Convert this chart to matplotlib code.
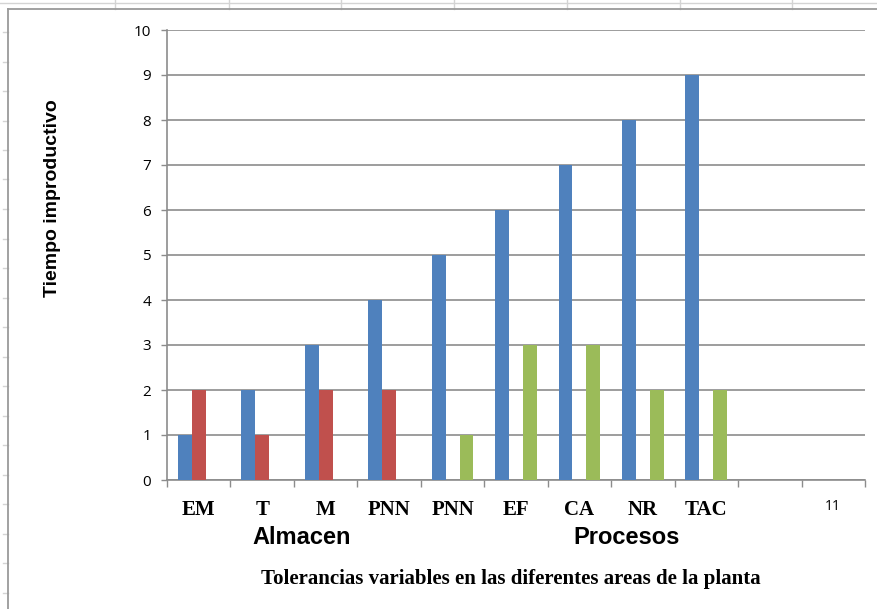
import matplotlib
matplotlib.use("Agg")
import matplotlib.pyplot as plt
from matplotlib.lines import Line2D
import numpy as np

# Categories along the x axis (the 10th slot is empty, the 11th only shows its number)
categories = ["EM", "T", "M", "PNN", "PNN", "EF", "CA", "NR", "TAC", "", "11"]
serie_total = [1, 2, 3, 4, 5, 6, 7, 8, 9, 0, 0]
serie_almacen = [2, 1, 2, 2, 0, 0, 0, 0, 0, 0, 0]
serie_procesos = [0, 0, 0, 0, 1, 3, 3, 2, 2, 0, 0]
y_ticks = [0, 1, 2, 3, 4, 5, 6, 7, 8, 9, 10]

W, H = 877, 609
fig = plt.figure(figsize=(W / 100, H / 100), dpi=100)
fig.patch.set_facecolor("white")


def fx(px):
    return px / W


def fy(py):
    return 1 - py / H


# Worksheet cell lines behind the chart object
sheet = "#D4D4D4"
fig.add_artist(Line2D([0, 1], [fy(3), fy(3)], color=sheet, lw=1))
for xv in [115, 229, 341, 454, 567, 680, 792]:
    fig.add_artist(Line2D([fx(xv), fx(xv)], [fy(0), fy(9)], color=sheet, lw=1))
for yv in np.arange(32, 609, 29.5):
    fig.add_artist(Line2D([fx(3), fx(8)], [fy(yv), fy(yv)], color=sheet, lw=1))

# Chart object border
border = "#9A9A9A"
fig.add_artist(Line2D([fx(8), fx(8)], [fy(9), 0], color=border, lw=1.3))
fig.add_artist(Line2D([fx(8), 1], [fy(9), fy(9)], color=border, lw=1.3))

left, right, top, bottom = 167, 865, 30, 480
ax = fig.add_axes([fx(left), fy(bottom), fx(right - left), fy(top) - fy(bottom)])

x = np.arange(len(categories))
bw = 0.22
ax.bar(x - bw, serie_total, bw, color="#4F81BD", zorder=3)
ax.bar(x, serie_almacen, bw, color="#C0504D", zorder=3)
ax.bar(x + bw, serie_procesos, bw, color="#9BBB59", zorder=3)

ax.set_xlim(-0.5, len(categories) - 0.5)
ax.set_ylim(0, 10)
ax.set_yticks(y_ticks)
ax.set_yticklabels([str(v) for v in y_ticks], fontfamily="Open Sans", fontsize=11)
ax.yaxis.grid(True, color="#8C8C8C", lw=1.2, zorder=0)
ax.set_axisbelow(True)

grey = "#8C8C8C"
for s in ["top", "right"]:
    ax.spines[s].set_visible(False)
ax.spines["left"].set_color(grey)
ax.spines["bottom"].set_color(grey)
ax.spines["left"].set_linewidth(1.2)
ax.spines["bottom"].set_linewidth(1.2)
ax.tick_params(axis="y", direction="out", length=4.5, width=1.0, color=grey, pad=7)

# Category boundaries as tick marks, labels centred in each slot
ax.set_xticks(np.arange(-0.5, len(categories), 1.0))
ax.set_xticklabels([])
ax.tick_params(axis="x", direction="out", length=5, width=1.0, color=grey)
for i, lab in enumerate(categories):
    if lab == "11":
        ax.text(i, -0.6, lab, ha="center", va="center", fontsize=10,
                fontfamily="Open Sans", transform=ax.transData, clip_on=False)
    elif lab:
        ax.text(i, -0.66, lab, ha="center", va="center", fontsize=15,
                fontweight="bold", fontfamily="Liberation Serif",
                transform=ax.transData, clip_on=False)

fig.text(fx(53), fy(198), "Tiempo improductivo", rotation=90, ha="center",
         va="center", fontsize=14, fontweight="bold", fontfamily="Liberation Sans")
fig.text(fx(302), fy(538), "Almacen", ha="center", va="center", fontsize=17,
         fontweight="bold", fontfamily="Liberation Sans")
fig.text(fx(627), fy(538), "Procesos", ha="center", va="center", fontsize=17,
         fontweight="bold", fontfamily="Liberation Sans")
fig.text(fx(511), fy(579), "Tolerancias variables en las diferentes areas de la planta",
         ha="center", va="center", fontsize=15, fontweight="bold",
         fontfamily="Liberation Serif")

fig.savefig("out.png", dpi=100)
